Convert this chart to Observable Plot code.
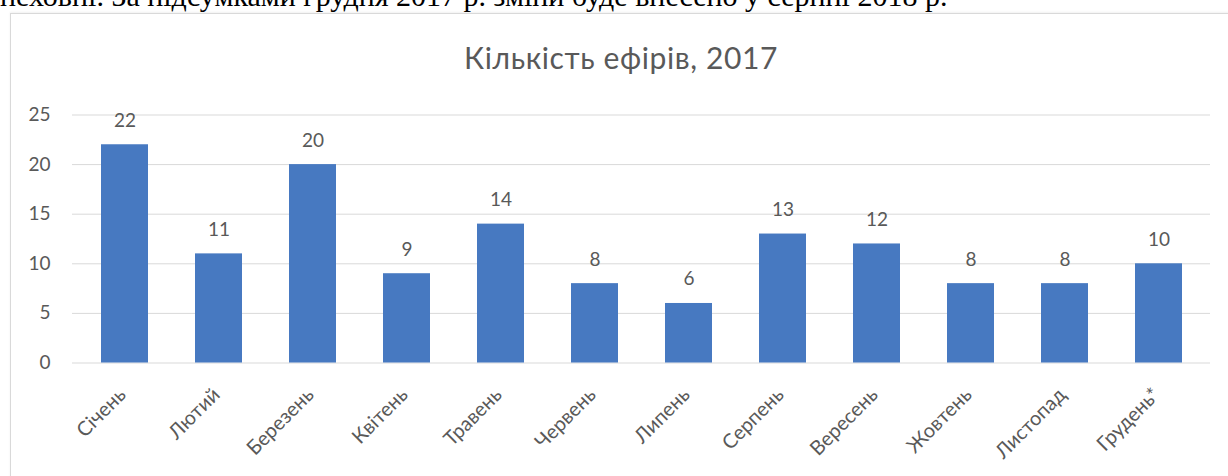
<!DOCTYPE html>
<html>
<head>
<meta charset="utf-8">
<script src="https://cdn.jsdelivr.net/npm/d3@7"></script>
<script src="https://cdn.jsdelivr.net/npm/@observablehq/plot@0.6"></script>
<style>
  html, body { margin: 0; padding: 0; background: #fff; }
  #page { position: relative; width: 1228px; height: 476px; overflow: hidden; background: #fff; }
  #toptext { position: absolute; left: 0; top: -21px; font-family: "Liberation Serif", serif; font-size: 30px; color: #000; white-space: nowrap; line-height: 34px; }
  #frame { position: absolute; left: 10px; top: 13px; width: 1260px; height: 480px; border: 1px solid #d9d9d9; box-sizing: border-box; box-shadow: 0 -1px 2px rgba(0,0,0,0.06); }
  #title { position: absolute; left: 7px; width: 1228px; top: 40px; text-align: center; font-family: Lato, "Open Sans", sans-serif; font-size: 30px; letter-spacing: 0.6px; color: #595959; line-height: 34px; }
  #chart { position: absolute; left: 0; top: 0; }
</style>
</head>
<body>
<div id="page">
  <div id="toptext">пеховні. За підсумками грудня 2017 р. зміни буде внесено у серпні 2018 р.</div>
  <div id="frame"></div>
  <div id="title">Кількість ефірів, 2017</div>
  <div id="chart"></div>
</div>
<script>
const months = ["Січень","Лютий","Березень","Квітень","Травень","Червень","Липень","Серпень","Вересень","Жовтень","Листопад","Грудень*"];
const counts = [22, 11, 20, 9, 14, 8, 6, 13, 12, 8, 8, 10];
const yTicks = [0, 5, 10, 15, 20, 25];

const data = months.map((m, i) => ({month: m, value: counts[i]}));
const grey = "#595959";

const chart = Plot.plot({
  width: 1228,
  height: 476,
  marginLeft: 72,
  marginRight: 18,
  marginTop: 114.5,
  marginBottom: 113.5,
  style: {fontFamily: "Lato, 'Open Sans', sans-serif", background: "transparent"},
  x: {domain: months, paddingInner: 0.5, paddingOuter: 0.25, axis: null},
  y: {domain: [0, 25], axis: null},
  marks: [
    Plot.ruleY(yTicks, {stroke: "#d9d9d9", strokeWidth: 1}),
    Plot.axisY({ticks: yTicks, tickSize: 0, tickPadding: 22, fontSize: 19, color: grey, label: null, tickFormat: d => String(d)}),
    Plot.barY(data, {x: "month", y: "value", fill: "#4779c1"}),
    Plot.text(data, {x: "month", y: "value", text: d => String(d.value), lineAnchor: "bottom", dy: -18, fontSize: 19, fill: grey}),
    Plot.text(data, {x: "month", y: () => 0, text: "month", rotate: -45, textAnchor: "end", lineAnchor: "top", dx: -8, dy: 23, fontSize: 20, fill: grey})
  ]
});
document.getElementById("chart").appendChild(chart);
</script>
</body>
</html>
